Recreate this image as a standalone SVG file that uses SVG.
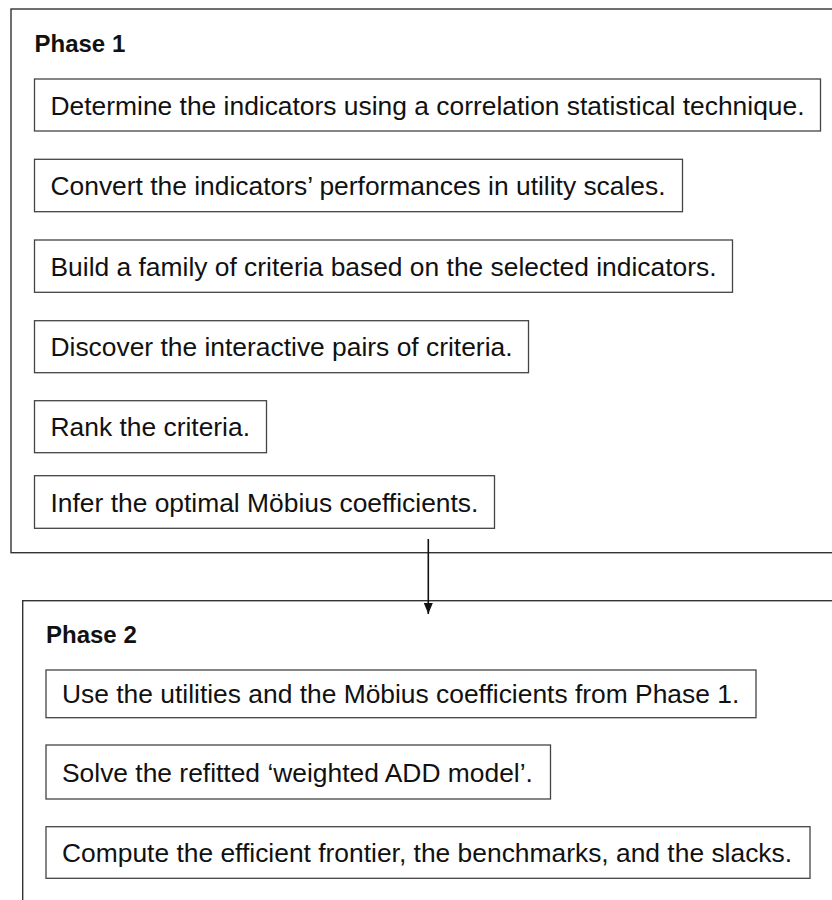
<svg xmlns="http://www.w3.org/2000/svg" width="832" height="900" viewBox="0 0 832 900">
<style>
.phase{fill:#fff;stroke:#333;stroke-width:1.4}
.box{fill:#fff;stroke:#444;stroke-width:1.3}
.t{font-family:"Liberation Sans",Arial,sans-serif;font-size:26.4px;fill:#111}
.title{font-family:"Liberation Sans",Arial,sans-serif;font-size:24px;font-weight:bold;fill:#111}
.conn{stroke:#111;stroke-width:1.6;fill:none}
</style>
<defs>
<marker id="arr" markerWidth="12" markerHeight="12" refX="11" refY="6" orient="auto" markerUnits="userSpaceOnUse">
<path d="M0,1.5 L11,6 L0,10.5 Z" fill="#111"/>
</marker>
</defs>
<g id="phase1">
<rect class="phase" x="11" y="9" width="900" height="543.7"/>
<text class="title" x="34.5" y="51.6">Phase 1</text>
</g>
<g id="p1-step1"><rect class="box" x="34.5" y="79" width="786" height="52"/><text class="t" x="50.5" y="114.5">Determine the indicators using a correlation statistical technique.</text></g>
<g id="p1-step2"><rect class="box" x="34.5" y="159.3" width="648" height="52.4"/><text class="t" x="50.5" y="195">Convert the indicators’ performances in utility scales.</text></g>
<g id="p1-step3"><rect class="box" x="34.5" y="240" width="698" height="52.3"/><text class="t" x="50.5" y="275.7">Build a family of criteria based on the selected indicators.</text></g>
<g id="p1-step4"><rect class="box" x="34.5" y="320.7" width="494" height="52"/><text class="t" x="50.5" y="356.2">Discover the interactive pairs of criteria.</text></g>
<g id="p1-step5"><rect class="box" x="34.5" y="400.7" width="232" height="52"/><text class="t" x="50.5" y="436.2">Rank the criteria.</text></g>
<g id="p1-step6"><rect class="box" x="34.5" y="475.7" width="460" height="52.6"/><text class="t" x="50.5" y="511.5">Infer the optimal Möbius coefficients.</text></g>
<g id="phase2">
<rect class="phase" x="22.7" y="600.7" width="900" height="400"/>
<text class="title" x="46" y="643.3">Phase 2</text>
</g>
<g id="p2-step1"><rect class="box" x="46" y="670" width="710" height="47.7"/><text class="t" x="62" y="703.4">Use the utilities and the Möbius coefficients from Phase 1.</text></g>
<g id="p2-step2"><rect class="box" x="46" y="745" width="504.5" height="54"/><text class="t" x="62" y="781.5">Solve the refitted ‘weighted ADD model’.</text></g>
<g id="p2-step3"><rect class="box" x="46" y="826.7" width="764" height="51.6"/><text class="t" x="62" y="862">Compute the efficient frontier, the benchmarks, and the slacks.</text></g>
<g id="connectors">
<line class="conn" x1="428.3" y1="539" x2="428.3" y2="614" marker-end="url(#arr)"/>
</g>
</svg>
